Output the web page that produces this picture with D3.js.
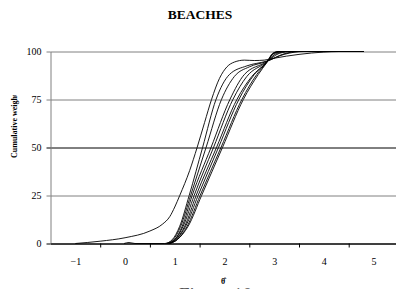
<!DOCTYPE html>
<html>
<head>
<meta charset="utf-8">
<script src="https://cdn.jsdelivr.net/npm/d3@7"></script>
<style>
  body { margin: 0; background: #fff; }
  svg { display: block; }
  svg text { font-family: "Liberation Serif", "Times New Roman", Times, serif !important; }
</style>
</head>
<body>
<div id="chart"></div>
<script>
// tick values
const xTicks = [-1, 0, 1, 2, 3, 4, 5];
const xTickMarks = [-0.5, 0.5, 1.5, 2.5, 3.5, 4.5, 5.5];
const yTicks = [0, 25, 50, 75, 100];

// curves: [theta, cumulative weight]
const curveA  = [[-1,0],[-0.5,1.2],[0,3],[0.5,6.5],[0.75,10],[0.9,14],[1.0,19],[1.1,25],[1.3,38],[1.45,50],[1.6,63],[1.74,75],[1.9,86],[2.05,92],[2.2,94.5],[2.4,95.5],[2.6,95.3],[2.8,95.5],[3.0,96.5],[3.5,98.5],[4.0,99.7],[4.3,100],[4.8,100]];
const curveB1 = [[-0.02,0],[0.08,0.5],[0.2,0],[0.8,0],[0.95,2],[1.1,9],[1.29,25],[1.56,50],[1.83,75],[2.1,88],[2.45,92.5],[2.85,95],[3.2,98.5],[3.6,100],[4.8,100]];
const curveB2 = [[0.82,0],[0.97,2],[1.12,9],[1.32,25],[1.63,50],[1.94,75],[2.2,87],[2.5,92],[2.85,94.8],[3.2,98.8],[3.5,100],[4.8,100]];
const curveB3 = [[0.85,0],[1.0,2],[1.15,9],[1.35,25],[1.73,50],[2.11,75],[2.4,88],[2.85,94.6],[3.1,99],[3.35,100],[4.8,100]];
const curveB4 = [[0.85,0],[1.0,2],[1.17,9],[1.39,25],[1.78,50],[2.17,75],[2.45,87],[2.85,94.5],[3.05,99],[3.3,100],[4.8,100]];
const curveB5 = [[0.88,0],[1.02,2],[1.2,9],[1.43,25],[1.84,50],[2.25,75],[2.55,87],[2.85,94.4],[3.0,99],[3.2,100],[4.8,100]];
const curveB6 = [[0.88,0],[1.03,2],[1.22,9],[1.47,25],[1.88,50],[2.29,75],[2.6,88],[2.85,94.3],[3.0,99.2],[3.15,100],[4.8,100]];
const curveB7 = [[0.9,0],[1.05,2],[1.25,9],[1.51,25],[1.93,50],[2.35,75],[2.65,88],[2.85,94.3],[2.98,99],[3.1,100],[4.8,100]];
const curveB8 = [[0.9,0],[1.05,2],[1.27,9],[1.54,25],[1.96,50],[2.38,75],[2.68,88],[2.85,94.2],[2.97,99],[3.08,100],[4.8,100]];

const W = 396, H = 289;
const serif = "'Liberation Serif', 'Times New Roman', Times, serif";

const svg = d3.select("#chart").append("svg")
    .attr("width", W)
    .attr("height", H)
    .style("font-family", serif);

const x = d3.scaleLinear().domain([-1.5, 5.5]).range([50.5, 398.4]);
const y = d3.scaleLinear().domain([0, 100]).range([243.5, 51.5]);

// horizontal gridlines
const grid = svg.append("g")
    .attr("transform", "translate(50.5,0)")
    .call(d3.axisLeft(y).tickValues(yTicks).tickSize(-(W + 10)).tickFormat(""));
grid.select(".domain").remove();
grid.selectAll(".tick line")
    .attr("stroke", d => (d === 50 || d === 0) ? "#000" : "#808080");

// curves
const line = d3.line()
    .x(d => x(d[0]))
    .y(d => y(d[1]))
    .curve(d3.curveMonotoneX);

const curves = [curveA, curveB1, curveB2, curveB3, curveB4, curveB5, curveB6, curveB7, curveB8];
svg.append("g")
    .selectAll("path")
    .data(curves)
    .join("path")
    .attr("d", line)
    .attr("fill", "none")
    .attr("stroke", "#000")
    .attr("stroke-width", 0.9);

// y axis
const yAxis = svg.append("g")
    .attr("transform", "translate(50.5,0)")
    .call(d3.axisLeft(y).tickValues(yTicks).tickSize(4).tickSizeOuter(0).tickPadding(5).tickFormat(d3.format("d")));
yAxis.attr("font-family", null);
yAxis.select(".domain").attr("stroke", "#808080");
yAxis.selectAll(".tick line")
    .attr("stroke", d => (d === 50 || d === 0) ? "#000" : "#808080");
yAxis.selectAll("text")
    .style("font-family", serif)
    .style("font-size", "10px")
    .attr("fill", "#000");

// x axis tick marks (between labels)
const xAxis = svg.append("g")
    .attr("transform", "translate(0,243.5)")
    .call(d3.axisBottom(x).tickValues(xTickMarks).tickSize(4).tickSizeOuter(0).tickFormat(""));
xAxis.select(".domain").attr("stroke", "#000");

// x labels
const xLab = svg.append("g")
    .attr("transform", "translate(0,243.5)")
    .call(d3.axisBottom(x).tickValues(xTicks).tickSize(0).tickPadding(14).tickFormat(d3.format("d")));
xLab.attr("font-family", null);
xLab.select(".domain").remove();
xLab.selectAll("text")
    .style("font-family", serif)
    .style("font-size", "10px")
    .attr("fill", "#000");

// title
svg.append("text")
    .attr("x", 200)
    .attr("y", 19)
    .attr("text-anchor", "middle")
    .style("font-size", "13.5px")
    .style("font-weight", "bold")
    .text("BEACHES");

// y label (clipped at the top like the original)
svg.append("clipPath").attr("id", "ylabclip")
    .append("rect").attr("x", 0).attr("y", 95).attr("width", 30).attr("height", 100);
svg.append("g")
    .attr("clip-path", "url(#ylabclip)")
    .append("text")
    .attr("transform", "translate(17,158) rotate(-90)")
    .style("font-size", "8px")
    .style("font-weight", "bold")
    .text("Cumulative weight");

// x label
svg.append("text")
    .attr("x", 223)
    .attr("y", 284)
    .attr("text-anchor", "middle")
    .style("font-size", "8px")
    .style("font-weight", "bold")
    .text("\u03B8\u0302");

// caption, mostly cut off by the bottom edge
svg.append("text")
    .attr("x", 179)
    .attr("y", 300.5)
    .style("font-size", "19px")
    .attr("fill", "#555")
    .text("Figure 10");
</script>
</body>
</html>
